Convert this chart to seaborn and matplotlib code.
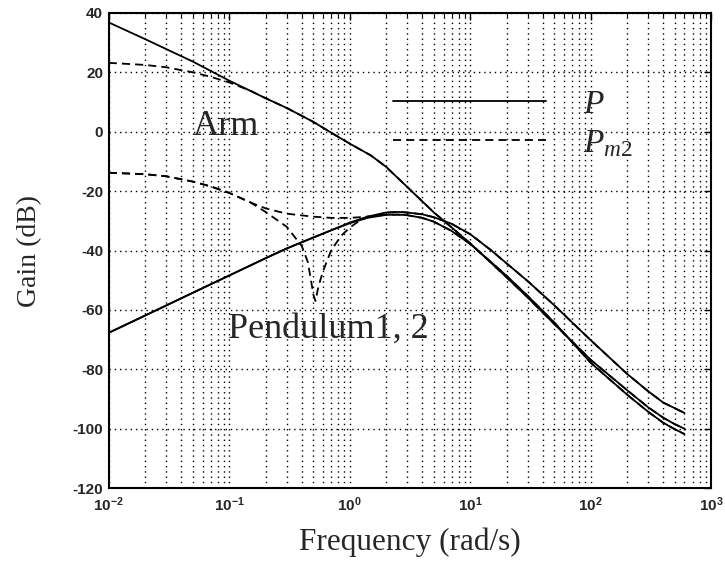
import numpy as np
import pandas as pd
import matplotlib
matplotlib.use("Agg")
import matplotlib.pyplot as plt
import seaborn as sns
from matplotlib.ticker import LogLocator, FuncFormatter, FixedLocator, NullFormatter
from matplotlib.lines import Line2D

# ---- frequency response readings (rad/s, dB) ----
arm_p_freq = [0.01, 0.02, 0.05, 0.1, 0.2, 0.3, 0.5, 0.7, 1.0, 1.5, 2.0, 3.0,
              5.0, 7.0, 10, 20, 30, 50, 100, 200, 300, 400, 500, 600]
arm_p_gain = [36.8, 31.2, 23.6, 17.2, 11.3, 8.0, 3.3, -0.3, -4.0, -8.0, -11.8, -18.6,
              -27.2, -32.2, -37.6, -49.0, -55.8, -64.8, -76.8, -87.0, -92.8, -96.3, -98.5, -100.0]

arm_m_freq = [0.01, 0.02, 0.03, 0.05, 0.07, 0.1, 0.15, 0.2, 0.3, 0.5, 0.7, 1.0, 1.5,
              2.0, 3.0, 5.0, 7.0, 10, 20, 30, 50, 100, 200, 300, 400, 500, 600]
arm_m_gain = [23.2, 22.5, 21.7, 20.0, 18.5, 16.6, 13.8, 11.3, 8.0, 3.3, -0.3, -4.0, -8.0,
              -11.8, -18.6, -27.2, -32.2, -37.6, -49.0, -55.8, -64.8, -76.8, -87.0, -92.8,
              -96.3, -98.5, -100.0]

pend1_p_freq = [0.01, 0.02, 0.05, 0.1, 0.2, 0.3, 0.5, 0.7, 1.0, 1.4, 2.0, 2.5, 3.0,
                4.0, 5.0, 7.0, 10, 15, 20, 30, 50, 100, 200, 300, 400, 600]
pend1_p_gain = [-67.7, -61.9, -54.2, -48.4, -42.6, -39.3, -35.6, -33.2, -30.6, -28.6,
                -27.2, -27.0, -27.2, -27.8, -28.8, -31.0, -34.5, -40.0, -44.3, -50.3,
                -58.5, -70.2, -81.5, -87.4, -91.2, -94.7]

pend2_p_freq = [0.01, 0.02, 0.05, 0.1, 0.2, 0.3, 0.5, 0.7, 1.0, 1.4, 2.0, 2.5, 3.0,
                4.0, 5.0, 7.0, 10, 15, 20, 30, 50, 100, 200, 300, 400, 500, 600]
pend2_p_gain = [-67.7, -61.9, -54.2, -48.4, -42.6, -39.3, -35.6, -33.2, -30.8, -29.0,
                -28.0, -27.9, -28.1, -29.0, -30.3, -33.4, -37.8, -44.0, -48.5, -55.3,
                -64.3, -77.8, -88.5, -94.3, -98.0, -100.2, -101.8]

pend1_m_freq = [0.01, 0.02, 0.03, 0.05, 0.07, 0.1, 0.15, 0.2, 0.3, 0.4, 0.45, 0.5,
                0.52, 0.55, 0.6, 0.7, 0.85, 1.0, 1.2, 1.4, 2.0, 2.5, 3.0, 4.0, 5.0,
                7.0, 10, 15, 20, 30, 50, 100, 200, 300, 400, 600]
pend1_m_gain = [-13.8, -14.3, -15.0, -16.8, -18.4, -20.6, -23.8, -27.0, -32.0, -38.5,
                -44.0, -55.0, -57.0, -52.0, -47.0, -40.0, -35.0, -32.3, -30.0, -28.8,
                -27.3, -27.0, -27.2, -27.8, -28.8, -31.0, -34.5, -40.0, -44.3, -50.3,
                -58.5, -70.2, -81.5, -87.4, -91.2, -94.7]

pend2_m_freq = [0.01, 0.02, 0.03, 0.05, 0.07, 0.1, 0.15, 0.2, 0.3, 0.5, 0.7, 1.0,
                1.3, 1.7, 2.0, 2.5, 3.0, 4.0, 5.0, 7.0, 10, 15, 20, 30, 50, 100, 200,
                300, 400, 500, 600]
pend2_m_gain = [-13.8, -14.3, -15.0, -16.8, -18.4, -20.6, -23.8, -25.8, -27.6, -28.6,
                -29.0, -29.0, -28.7, -28.2, -28.0, -27.9, -28.1, -29.0, -30.3, -33.4,
                -37.8, -44.0, -48.5, -55.3, -64.3, -77.8, -88.5, -94.3, -98.0, -100.2,
                -101.8]

y_ticks = [40, 20, 0, -20, -40, -60, -80, -100, -120]
x_decades = [-2, -1, 0, 1, 2, 3]
legend_labels = ["$P$", "$P_{m2}$"]

curves = [
    ("Arm", "P", arm_p_freq, arm_p_gain),
    ("Arm", "Pm2", arm_m_freq, arm_m_gain),
    ("Pendulum1", "P", pend1_p_freq, pend1_p_gain),
    ("Pendulum2", "P", pend2_p_freq, pend2_p_gain),
    ("Pendulum1", "Pm2", pend1_m_freq, pend1_m_gain),
    ("Pendulum2", "Pm2", pend2_m_freq, pend2_m_gain),
]

frames = []
for name, model, f, g in curves:
    frames.append(pd.DataFrame({"freq": f, "gain": g,
                                "curve": f"{name}-{model}", "model": model}))
df = pd.concat(frames, ignore_index=True)

sns.set_style("white")
plt.rcParams.update({
    "font.family": ["Liberation Serif", "DejaVu Serif"],
    "axes.unicode_minus": False,
    "mathtext.fontset": "custom",
    "mathtext.rm": "Liberation Serif",
    "mathtext.it": "Liberation Serif:italic",
    "mathtext.bf": "Liberation Sans:bold",
})

fig = plt.figure(figsize=(7.25, 5.63), dpi=100)
ax = fig.add_axes([0.150, 0.133, 0.831, 0.844])

dash = (0, (4.5, 2.8))
for key, sub in df.groupby("curve", sort=False):
    ls = "-" if sub["model"].iloc[0] == "P" else dash
    sns.lineplot(data=sub, x="freq", y="gain", ax=ax, color="black",
                 linewidth=1.3, linestyle=ls, sort=False, estimator=None)

ax.set_xscale("log")
ax.set_xlim(10.0 ** x_decades[0], 10.0 ** x_decades[-1])
ax.set_ylim(y_ticks[-1], y_ticks[0])

ax.xaxis.set_major_locator(FixedLocator([10.0 ** d for d in x_decades]))
ax.xaxis.set_minor_locator(LogLocator(base=10, subs=np.arange(2, 10), numticks=20))
ax.xaxis.set_minor_formatter(NullFormatter())
ax.xaxis.set_major_formatter(FuncFormatter(
    lambda v, pos: r"$\mathbf{10^{%d}}$" % int(round(np.log10(v)))))
ax.yaxis.set_major_locator(FixedLocator(y_ticks))
ax.set_yticklabels([str(t) for t in y_ticks], fontfamily="Liberation Sans",
                   fontweight="bold", fontsize=11)
for lab in ax.get_xticklabels():
    lab.set_fontsize(11)

ax.tick_params(which="both", direction="in", top=True, right=True, color="black")
ax.tick_params(which="major", length=5, width=1.0, pad=4)
ax.tick_params(which="minor", length=3, width=0.8)
ax.tick_params(axis="x", which="major", pad=5)

grid_ls = (0, (1, 2.8))
ax.grid(True, which="major", axis="both", color="black", linestyle=grid_ls, linewidth=1.0)
ax.grid(True, which="minor", axis="x", color="black", linestyle=grid_ls, linewidth=1.0)
for s in ax.spines.values():
    s.set_color("black")
    s.set_linewidth(1.5)

ax.set_xlabel("Frequency (rad/s)", fontsize=22.5, labelpad=10)
ax.set_ylabel("Gain (dB)", fontsize=20, labelpad=22)

ax.text(0.0499, -1.1, "Arm", fontsize=26, ha="left", va="baseline")
ax.text(0.0973, -69.4, "Pendulum1, 2", fontsize=26, ha="left", va="baseline")

handles = [Line2D([], [], color="black", lw=1.3, ls="-"),
           Line2D([], [], color="black", lw=1.3, ls=dash)]
ax.legend(handles, legend_labels, loc="upper left", bbox_to_anchor=(0.472, 0.839),
          frameon=False, fontsize=24, handlelength=4.6, handletextpad=1.1,
          labelspacing=0.25, borderpad=0, borderaxespad=0)

fig.savefig("out.png", dpi=100)
